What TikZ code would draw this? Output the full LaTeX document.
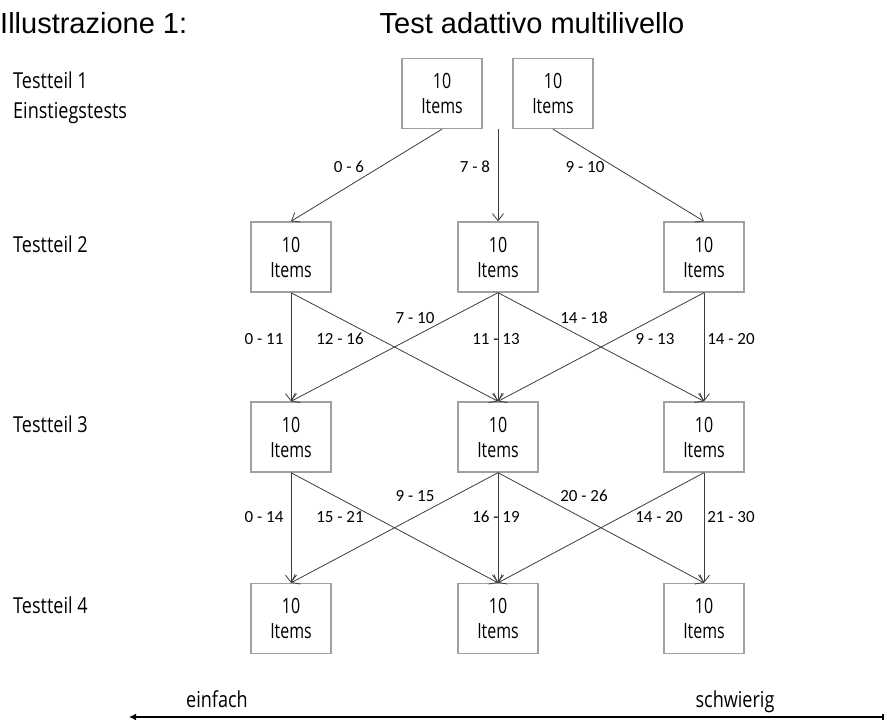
\documentclass[tikz,border=0pt]{standalone}
\usepackage{fontspec}
\setmainfont{Carlito}
\newfontfamily\boxfont[FakeStretch=0.76]{Open Sans}
\newfontfamily\rowfont[FakeStretch=0.82]{Open Sans}
\newfontfamily\titlefont{Liberation Sans}
\usetikzlibrary{arrows.meta}

\definecolor{boxgray}{HTML}{A0A0A0}
\definecolor{linegray}{HTML}{3C3C3C}

\tikzset{
  x=1pt, y=-1pt,
  itembox/.style={draw=boxgray, line width=1.4pt, minimum width=80pt,
    minimum height=70pt, inner sep=0pt, align=center,
    font=\boxfont\fontsize{21}{25}\selectfont},
  flow/.style={draw=linegray, line width=0.8pt,
    -{Straight Barb[length=7pt,width=11pt,line width=0.8pt]}},
  scorerange/.style={font=\fontsize{17}{20}\selectfont, inner sep=0pt},
  rowlabel/.style={anchor=base west, inner sep=0pt,
    font=\rowfont\fontsize{22}{29.5}\selectfont},
  heading/.style={anchor=base, inner sep=0pt,
    font=\titlefont\fontsize{29}{33}\selectfont},
}

\begin{document}
\begin{tikzpicture}
\useasboundingbox (0,0) rectangle (887,720);

% headings
\node[heading, anchor=base west] (ill) at (0,34) {Illustrazione 1:};
\node[heading] (title) at (532,34) {Test adattivo multilivello};

% row captions
\node[rowlabel] (r1) at (13,88.5) {Testteil 1};
\node[rowlabel] (r1b) at (13,118) {Einstiegstests};
\node[rowlabel] (r2) at (13,252) {Testteil 2};
\node[rowlabel] (r3) at (13,432) {Testteil 3};
\node[rowlabel] (r4) at (13,613.5) {Testteil 4};

% entry tests
\node[itembox] (e1) at (442,93.5) {10\\Items};
\node[itembox] (e2) at (553,93.5) {10\\Items};
\coordinate (emid) at (498,129);

% levels 2 to 4
\foreach \r/\y in {2/257, 3/437, 4/618.5} {
  \node[itembox] (a\r) at (291,\y) {10\\Items};
  \node[itembox] (b\r) at (498,\y) {10\\Items};
  \node[itembox] (c\r) at (704,\y) {10\\Items};
}

% routing after the entry test
\draw[flow] (e1.south) -- (a2.north);
\draw[flow] (emid) -- (b2.north);
\draw[flow] (e2.south) -- (c2.north);
\node[scorerange] (l1) at (349,167) {0 - 6};
\node[scorerange] (l2) at (475,167) {7 - 8};
\node[scorerange] (l3) at (585,167) {9 - 10};

% routing from level 2 to level 3
\draw[flow] (a2.south) -- (a3.north);
\draw[flow] (a2.south) -- (b3.north);
\draw[flow] (b2.south) -- (a3.north);
\draw[flow] (b2.south) -- (b3.north);
\draw[flow] (b2.south) -- (c3.north);
\draw[flow] (c2.south) -- (b3.north);
\draw[flow] (c2.south) -- (c3.north);
\node[scorerange] (m1) at (264,339) {0 - 11};
\node[scorerange] (m2) at (340,339) {12 - 16};
\node[scorerange] (m3) at (415,318) {7 - 10};
\node[scorerange] (m4) at (496,339) {11 - 13};
\node[scorerange] (m5) at (584,318) {14 - 18};
\node[scorerange] (m6) at (655,339) {9 - 13};
\node[scorerange] (m7) at (731,339) {14 - 20};

% routing from level 3 to level 4
\draw[flow] (a3.south) -- (a4.north);
\draw[flow] (a3.south) -- (b4.north);
\draw[flow] (b3.south) -- (a4.north);
\draw[flow] (b3.south) -- (b4.north);
\draw[flow] (b3.south) -- (c4.north);
\draw[flow] (c3.south) -- (b4.north);
\draw[flow] (c3.south) -- (c4.north);
\node[scorerange] (n1) at (264,517) {0 - 14};
\node[scorerange] (n2) at (340,517) {15 - 21};
\node[scorerange] (n3) at (415,496) {9 - 15};
\node[scorerange] (n4) at (496,517) {16 - 19};
\node[scorerange] (n5) at (584,496) {20 - 26};
\node[scorerange] (n6) at (659,517) {14 - 20};
\node[scorerange] (n7) at (731,517) {21 - 30};

% difficulty axis
\coordinate (easy) at (129,717);
\coordinate (hard) at (884,717);
\draw[line width=1.3pt, {Latex[length=7pt,width=7pt]}-{Bar[width=7pt,line width=2pt]}] (easy) -- (hard);
\node[rowlabel, anchor=base] (ez) at (217,707) {einfach};
\node[rowlabel, anchor=base] (hd) at (735,707) {schwierig};
\end{tikzpicture}
\end{document}
